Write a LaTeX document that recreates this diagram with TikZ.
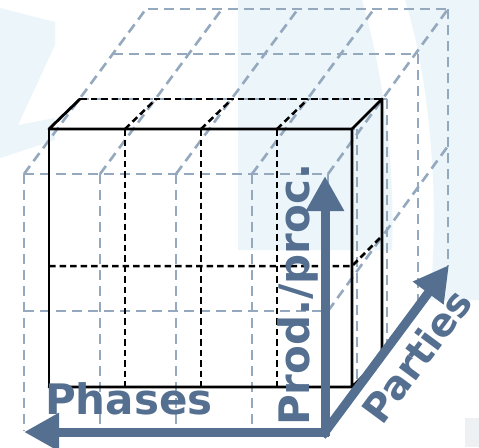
\documentclass[tikz,border=0pt]{standalone}
\usepackage{fontspec}
\setmainfont{DejaVu Sans}
\usetikzlibrary{arrows.meta}
\definecolor{gridgray}{HTML}{94A8BE}
\definecolor{axisblue}{HTML}{546F90}
\definecolor{wmblue}{HTML}{EBF5FA}
\definecolor{wmgray}{HTML}{EEF1F4}
\begin{document}
\begin{tikzpicture}[x=1pt,y=-1pt,
  graydash/.style={draw=gridgray, line width=2.6pt, dash pattern=on 10pt off 6pt},
  blackdash/.style={draw=black, line width=2.5pt, dash pattern=on 6.5pt off 4pt},
  blacksolid/.style={draw=black, line width=2.8pt, line cap=round, line join=round},
  axisline/.style={draw=axisblue, line width=9pt, -{Triangle[length=35pt,width=36pt]}},
  axislabel/.style={text=axisblue, font=\fontsize{42}{42}\selectfont\bfseries, inner sep=0pt}]
\useasboundingbox (0,0) rectangle (479,447);
% faint watermark
\fill[wmblue] (238,0) -- (362,0) .. controls (385,80) and (395,170) .. (392,250) -- (238,250) -- cycle;
\fill[wmblue] (405,0) -- (479,0) -- (479,300) -- (430,300) .. controls (440,200) and (430,80) .. (405,0) -- cycle;
\fill[wmblue] (0,8) -- (55,22) -- (55,45) -- (18,125) -- (55,118) -- (55,140) -- (0,158) -- cycle;
\fill[wmgray] (465,418) rectangle (479,447);
% gray grid: front face
\foreach \x in {24,100,176,252,328} {
  \coordinate (ft\x) at (\x,174);
  \coordinate (fb\x) at (\x,431);
  \draw[graydash] (ft\x) -- (fb\x);
}
\foreach \x in {24,100,176,252} {
  \coordinate (bk\x) at (\x+122,9);
  \draw[graydash] (ft\x) -- (bk\x);
}
\coordinate (bk328) at (448,9);
\draw[graydash] (ft328) -- (bk328);
\coordinate (fm24) at (24,311);
\coordinate (fm328) at (328,311);
\draw[graydash] (ft24) -- (ft328);
\draw[graydash] (fm24) -- (fm328);
% gray grid: depth layers
\coordinate (l1a) at (57,129);  \coordinate (l1b) at (357,129);
\coordinate (l2a) at (79,99);   \coordinate (l2b) at (387,99);
\coordinate (l3a) at (113,54);  \coordinate (l3b) at (418,54);
\coordinate (l4a) at (148,9);   \coordinate (l4b) at (448,9);
\coordinate (l1c) at (357,391); \coordinate (l2c) at (387,350);
\coordinate (l3c) at (418,307); \coordinate (l4c) at (448,266);
\foreach \k in {1,2,3,4} {
  \draw[graydash] (l\k a) -- (l\k b);
  \draw[graydash] (l\k b) -- (l\k c);
}
\coordinate (bm) at (448,146);
\draw[graydash] (fm328) -- (bm);
% black cube
\coordinate (A) at (49,129);  \coordinate (B) at (352,129);
\coordinate (C) at (352,387); \coordinate (D) at (49,387);
\coordinate (E) at (80,99);   \coordinate (F) at (382,99);
\coordinate (G) at (382,357);
\foreach \x in {125,201,277} {
  \coordinate (ct\x) at (\x,129);
  \coordinate (cb\x) at (\x,387);
  \coordinate (cr\x) at (\x+31,99);
  \draw[blackdash] (ct\x) -- (cb\x);
  \draw[blackdash] (ct\x) -- (cr\x);
}
\coordinate (mL) at (49,266); \coordinate (mR) at (352,266);
\coordinate (mB) at (382,236);
\draw[blackdash] (mL) -- (mR) -- (mB);
\draw[blackdash] (A) -- (B);
\draw[blackdash] (E) -- (F);
\draw[blacksolid] (B) -- (A) -- (E);
\draw[blacksolid] (D) -- (A);
\draw[blacksolid] (D) -- (C) -- (B) -- (F) -- (G) -- (C);
% axes
\coordinate (Oh) at (329,432);
\coordinate (Ov) at (325,436);
\coordinate (Op) at (322,436);
\coordinate (tipP) at (24,432);
\coordinate (tipV) at (325,176);
\coordinate (tipD) at (449,265);
\draw[axisline] (Oh) -- (tipP);
\draw[axisline] (Ov) -- (tipV);
\draw[axisline] (Op) -- (tipD);
\node[axislabel, anchor=base west] (phases) at (45,414) {Phases};
\node[axislabel, anchor=base west, rotate=90] (prod) at (309,426) {Prod./proc.};
\node[axislabel, anchor=base west, rotate=53.5, font=\fontsize{39}{39}\selectfont\bfseries] (parties) at (382,427) {Parties};
\end{tikzpicture}
\end{document}
